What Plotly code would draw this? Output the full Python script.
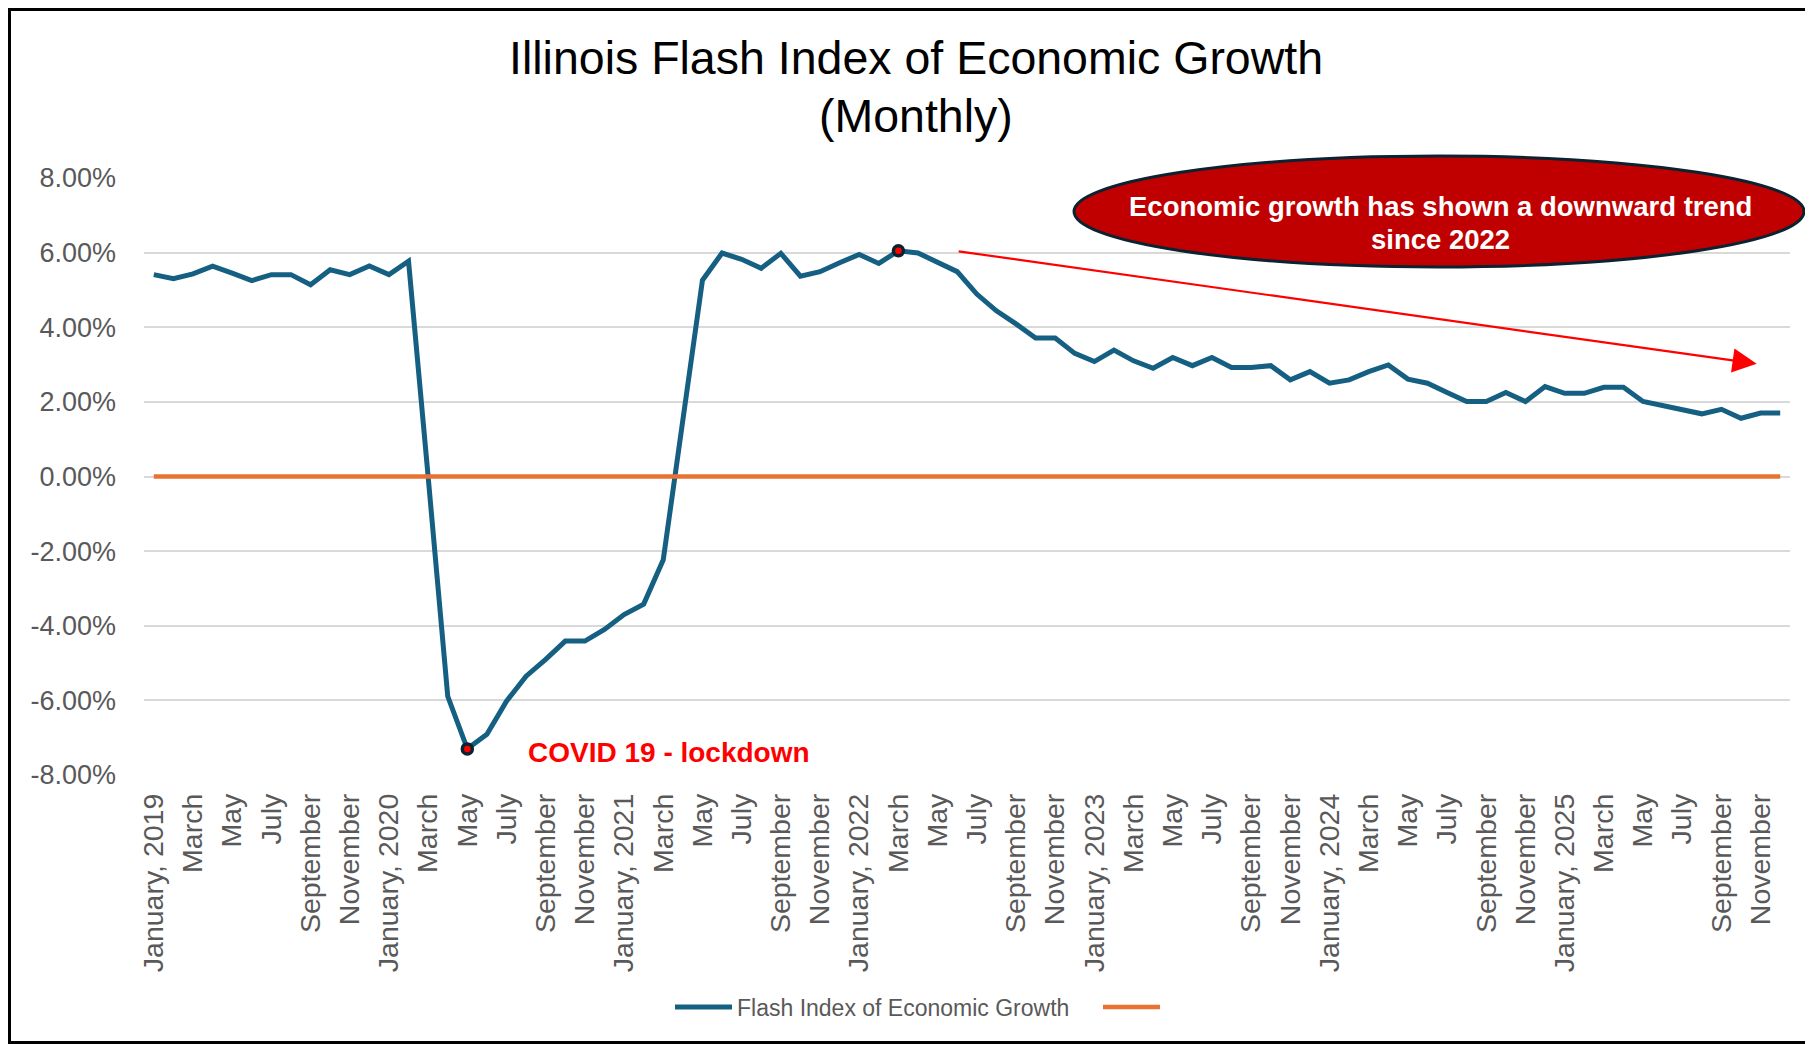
import plotly.graph_objects as go

# ---------------- data ----------------
months = [f"{m} {y}" for y in range(2019, 2026) for m in
          ["Jan", "Feb", "Mar", "Apr", "May", "Jun", "Jul", "Aug", "Sep", "Oct", "Nov", "Dec"]]

flash_index = [
    5.41, 5.30, 5.43, 5.64, 5.45, 5.25, 5.41, 5.41, 5.14, 5.54, 5.41, 5.64,      # 2019
    5.41, 5.77, 0.00, -5.89, -7.30, -6.91, -6.02, -5.35, -4.90, -4.41, -4.41, -4.10,  # 2020
    -3.70, -3.42, -2.23, 1.50, 5.26, 5.99, 5.82, 5.58, 5.98, 5.37, 5.49, 5.73,   # 2021
    5.95, 5.71, 6.05, 5.99, 5.73, 5.49, 4.89, 4.44, 4.09, 3.71, 3.71, 3.30,      # 2022
    3.08, 3.39, 3.10, 2.90, 3.19, 2.97, 3.19, 2.92, 2.92, 2.97, 2.59, 2.81,      # 2023
    2.50, 2.59, 2.81, 2.99, 2.61, 2.50, 2.25, 2.01, 2.01, 2.25, 2.01, 2.41,      # 2024
    2.23, 2.23, 2.39, 2.39, 2.01, 1.89, 1.78, 1.68, 1.80, 1.56, 1.70, 1.70,      # 2025
]
baseline = [0.0] * len(flash_index)

x_tick_labels = []
for y in range(2019, 2026):
    x_tick_labels += [f"January, {y}", "March", "May", "July", "September", "November"]

y_tick_values = [-8, -6, -4, -2, 0, 2, 4, 6, 8]
y_tick_labels = ["-8.00%", "-6.00%", "-4.00%", "-2.00%", "0.00%", "2.00%", "4.00%", "6.00%", "8.00%"]

highlight_months = ["May 2020", "Mar 2022"]

# ---------------- layout geometry ----------------
# page coordinates of the reference; the page body adds an 8px margin, so
# the figure itself is shifted/shrunk by that amount.
OFF = 8
PAGE_W, PAGE_H = 1813, 1044
W, H = PAGE_W - OFF, PAGE_H - OFF
PL, PR, PT, PB = 144, 1790, 178, 775   # plot area in page pixels


def px_x(p):
    return (p - PL) / (PR - PL)


def px_y(p):
    return (PB - p) / (PB - PT)


idx = list(range(len(months)))
hl_idx = [months.index(m) for m in highlight_months]
hl_val = [flash_index[i] for i in hl_idx]

BLUE = "#156082"
ORANGE = "#E97132"
GREY = "#595959"
FONT = "Liberation Sans, Arial, sans-serif"

fig = go.Figure()
fig.add_trace(go.Scatter(x=idx, y=flash_index, mode="lines", name="Flash Index of Economic Growth",
                         line=dict(color=BLUE, width=5), customdata=months,
                         hovertemplate="%{customdata}: %{y:.2f}%<extra></extra>"))
fig.add_trace(go.Scatter(x=idx, y=baseline, mode="lines", name="",
                         line=dict(color=ORANGE, width=4.5), hoverinfo="skip"))
fig.add_trace(go.Scatter(x=hl_idx, y=hl_val, mode="markers", showlegend=False,
                         marker=dict(color="#FF0000", size=10, line=dict(color="#0B2230", width=3.5)),
                         hoverinfo="skip"))

fig.update_layout(
    width=W, height=H,
    margin=dict(l=PL - OFF, r=PAGE_W - PR, t=PT - OFF, b=PAGE_H - PB, pad=0),
    paper_bgcolor="white", plot_bgcolor="white",
    font=dict(family=FONT, color=GREY),
    showlegend=True,
    legend=dict(orientation="h", x=px_x(670), xanchor="left", y=px_y(1007), yanchor="middle",
                font=dict(size=23, color=GREY, family=FONT), itemwidth=57,
                entrywidth=356, entrywidthmode="pixels", bgcolor="rgba(0,0,0,0)"),
    xaxis=dict(range=[-0.5, len(months) - 0.5], tickvals=idx[::2], ticktext=x_tick_labels,
               tickangle=-90, showgrid=False, zeroline=False, showline=False, ticks="",
               tickfont=dict(size=28.5, color=GREY, family=FONT), ticklabelstandoff=12),
    yaxis=dict(range=[-8, 8], tickvals=y_tick_values, ticktext=y_tick_labels,
               showgrid=True, gridcolor="#D9D9D9", gridwidth=1.5, zeroline=False, showline=False,
               ticks="", tickfont=dict(size=27, color=GREY, family=FONT), ticklabelstandoff=27),
)

# title (two lines)
fig.add_annotation(text="Illinois Flash Index of Economic Growth", xref="paper", yref="paper",
                   x=px_x(916), y=px_y(58), xanchor="center", yanchor="middle", showarrow=False,
                   font=dict(size=46.5, color="#000000", family=FONT))
fig.add_annotation(text="(Monthly)", xref="paper", yref="paper",
                   x=px_x(916), y=px_y(116), xanchor="center", yanchor="middle", showarrow=False,
                   font=dict(size=46.5, color="#000000", family=FONT))

# COVID label
fig.add_annotation(text="<b>COVID 19 - lockdown</b>", xref="paper", yref="paper",
                   x=px_x(526), y=px_y(752), xanchor="left", yanchor="middle", showarrow=False,
                   font=dict(size=28, color="#FF0000", family=FONT))

# trend arrow
arrow_start = (41.0, 6.04)
arrow_end = (81.8, 3.02)
fig.add_annotation(x=arrow_end[0], y=arrow_end[1], ax=arrow_start[0], ay=arrow_start[1],
                   xref="x", yref="y", axref="x", ayref="y", text="", showarrow=True,
                   arrowhead=2, arrowsize=2.2, arrowwidth=2.2, arrowcolor="#FF0000", standoff=0)

# callout ellipse
fig.add_shape(type="circle", xref="paper", yref="paper", layer="above",
              x0=px_x(1074), x1=px_x(1804), y0=px_y(267), y1=px_y(156),
              fillcolor="#C00000", line=dict(color="#0B2230", width=3))
fig.add_annotation(text="<b>Economic growth has shown a downward trend</b>", xref="paper", yref="paper",
                   x=px_x(1440), y=px_y(206), xanchor="center", yanchor="middle", showarrow=False,
                   font=dict(size=27.5, color="white", family=FONT))
fig.add_annotation(text="<b>since 2022</b>", xref="paper", yref="paper",
                   x=px_x(1440), y=px_y(240), xanchor="center", yanchor="middle", showarrow=False,
                   font=dict(size=27.5, color="white", family=FONT))

# outer frame
fig.add_shape(type="rect", xref="paper", yref="paper", layer="above",
              x0=px_x(9.5), x1=px_x(1830), y0=px_y(1042.5), y1=px_y(9.5),
              line=dict(color="#000000", width=3), fillcolor="rgba(0,0,0,0)")

fig.write_html("out.html")
